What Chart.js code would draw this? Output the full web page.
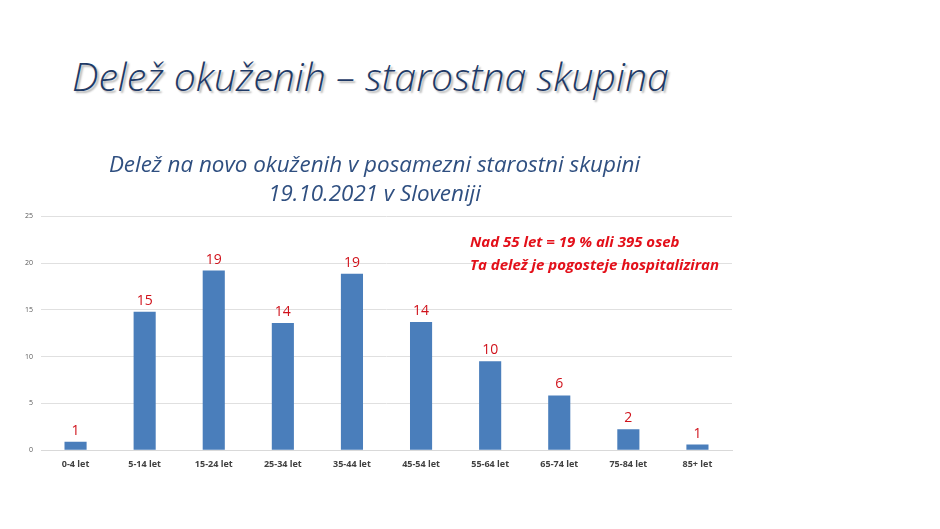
<!DOCTYPE html>
<html>
<head>
<meta charset="utf-8">
<script src="https://cdn.jsdelivr.net/npm/chart.js@4.4.0/dist/chart.umd.min.js"></script>
<style>
  html,body{margin:0;padding:0;background:#fff;width:940px;height:529px;overflow:hidden;}
  #title{position:absolute;left:72px;top:53px;font-family:"Open Sans",sans-serif;font-style:italic;font-weight:300;font-size:39.3px;line-height:46px;color:#1f3a66;white-space:nowrap;text-shadow:2px 2px 2px rgba(0,0,0,0.3);}
  #note{position:absolute;left:470px;top:230px;font-family:"Open Sans",sans-serif;font-style:italic;font-weight:bold;font-size:15px;line-height:23px;color:#e3101a;white-space:nowrap;}
  #wrap{position:absolute;left:0;top:140px;width:745px;height:340px;}
</style>
</head>
<body>
<div id="title">Delež okuženih – starostna skupina</div>
<div id="wrap"><canvas id="c"></canvas></div>
<div id="note">Nad 55 let = 19 % ali 395 oseb<br>Ta delež je pogosteje hospitaliziran</div>
<script>
const categories = ["0-4 let","5-14 let","15-24 let","25-34 let","35-44 let","45-54 let","55-64 let","65-74 let","75-84 let","85+ let"];
const shares = [0.9, 14.8, 19.2, 13.6, 18.85, 13.7, 9.5, 5.85, 2.25, 0.6];
const yTicks = [0, 5, 10, 15, 20, 25];
const subtitleLines = ["Delež na novo okuženih v posamezni starostni skupini", "19.10.2021 v Sloveniji"];

const valueLabels = {
  id: 'valueLabels',
  afterDatasetsDraw(chart) {
    const ctx = chart.ctx;
    const meta = chart.getDatasetMeta(0);
    ctx.save();
    ctx.font = '14px "Open Sans", sans-serif';
    ctx.fillStyle = '#d0121b';
    ctx.textAlign = 'center';
    ctx.textBaseline = 'bottom';
    meta.data.forEach((bar, i) => {
      ctx.fillText(String(Math.round(shares[i])), bar.x, bar.y - 4);
    });
    ctx.restore();
  }
};

new Chart(document.getElementById('c'), {
  type: 'bar',
  data: {
    labels: categories,
    datasets: [{
      data: shares,
      backgroundColor: '#4a7ebb',
      borderWidth: 0,
      categoryPercentage: 1.0,
      barPercentage: 0.32
    }]
  },
  options: {
    responsive: true,
    maintainAspectRatio: false,
    animation: false,
    layout: { padding: { left: 17, right: 13, top: 0, bottom: 9 } },
    plugins: {
      legend: { display: false },
      tooltip: { enabled: false },
      title: {
        display: true,
        text: subtitleLines,
        color: '#2f4f80',
        font: { family: '"Open Sans", sans-serif', size: 22.4, style: 'italic', weight: 'normal', lineHeight: 1.3 },
        padding: { top: 11, bottom: 7 }
      }
    },
    scales: {
      x: {
        grid: { display: false },
        border: { color: '#d9d9d9' },
        ticks: { color: '#404040', font: { family: '"Open Sans", sans-serif', size: 9, weight: 'bold' }, padding: 1 }
      },
      y: {
        min: 0, max: 25,
        afterBuildTicks(axis) { axis.ticks = yTicks.map(v => ({ value: v })); },
        grid: { color: '#e0e0e0', drawTicks: false },
        border: { display: false },
        ticks: { color: '#595959', font: { family: '"Open Sans", sans-serif', size: 7 }, padding: 8 }
      }
    }
  },
  plugins: [valueLabels]
});
</script>
</body>
</html>
